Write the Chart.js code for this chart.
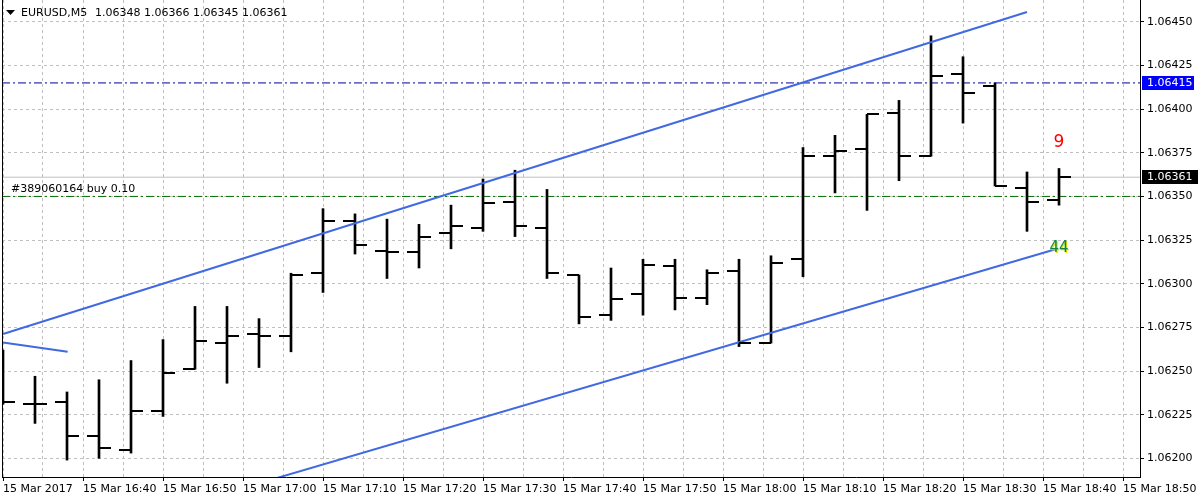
<!DOCTYPE html>
<html>
<head>
<meta charset="utf-8">
<title>EURUSD,M5</title>
<script src="https://cdn.jsdelivr.net/npm/chart.js@4"></script>
<style>
  html, body { margin: 0; padding: 0; background: #fff; }
  #wrap { width: 1200px; height: 500px; }
</style>
</head>
<body>
<div id="wrap"><canvas id="chart" width="1200" height="500"></canvas></div>
<script>
// EURUSD M5 bars (bar index 0 = leftmost bar)
const opens  = [1.06258, 1.06231, 1.06232, 1.06213, 1.06205, 1.06227, 1.06251, 1.06266, 1.06271, 1.06270,
                1.06306, 1.06336, 1.06319, 1.06318, 1.06329, 1.06332, 1.06347, 1.06332, 1.06305, 1.06282,
                1.06294, 1.06310, 1.06292, 1.06307, 1.06266, 1.06314, 1.06373, 1.06377, 1.06398, 1.06373,
                1.06420, 1.06413, 1.06355, 1.06348];
const highs  = [1.06262, 1.06247, 1.06238, 1.06245, 1.06256, 1.06268, 1.06287, 1.06287, 1.06280, 1.06306,
                1.06343, 1.06340, 1.06337, 1.06334, 1.06345, 1.06360, 1.06365, 1.06354, 1.06305, 1.06309,
                1.06314, 1.06314, 1.06308, 1.06314, 1.06316, 1.06378, 1.06385, 1.06397, 1.06405, 1.06442,
                1.06430, 1.06415, 1.06364, 1.06366];
const lows   = [1.06231, 1.06220, 1.06199, 1.06200, 1.06203, 1.06224, 1.06251, 1.06243, 1.06252, 1.06261,
                1.06295, 1.06317, 1.06303, 1.06309, 1.06320, 1.06330, 1.06327, 1.06303, 1.06277, 1.06279,
                1.06282, 1.06285, 1.06288, 1.06264, 1.06266, 1.06304, 1.06352, 1.06342, 1.06359, 1.06373,
                1.06392, 1.06356, 1.06330, 1.06345];
const closes = [1.06232, 1.06231, 1.06213, 1.06206, 1.06227, 1.06249, 1.06267, 1.06270, 1.06270, 1.06305,
                1.06336, 1.06322, 1.06318, 1.06327, 1.06333, 1.06346, 1.06333, 1.06306, 1.06281, 1.06291,
                1.06311, 1.06292, 1.06306, 1.06266, 1.06312, 1.06373, 1.06376, 1.06397, 1.06373, 1.06419,
                1.06409, 1.06356, 1.06347, 1.06361];

// time labels (one every 2.5 bars, as the terminal prints them)
const timeLabels = ['15 Mar 2017', '15 Mar 16:40', '15 Mar 16:50', '15 Mar 17:00', '15 Mar 17:10',
                    '15 Mar 17:20', '15 Mar 17:30', '15 Mar 17:40', '15 Mar 17:50', '15 Mar 18:00',
                    '15 Mar 18:10', '15 Mar 18:20', '15 Mar 18:30', '15 Mar 18:40', '15 Mar 18:50'];
const priceTicks = [1.06200, 1.06225, 1.06250, 1.06275, 1.06300, 1.06325, 1.06350, 1.06375, 1.06400, 1.06425, 1.06450];

// drawn objects: trend lines [barIndex, price]
const upperTrend = [[0, 1.062712], [32, 1.064556]];
const lowerTrend = [[8, 1.061857], [32.97, 1.063202]];
const shortTrend = [[0, 1.062664], [2.02, 1.062611]];

// horizontal levels
const bidPrice = 1.06361;
const alertLevel = 1.06415;
const orderLevel = 1.06350;
const orderText = '#389060164 buy 0.10';

const X_MIN = -0.03125, X_MAX = 35.53125;
const Y_MIN = 1.061893, Y_MAX = 1.064625;
const FONT = '"DejaVu Sans", sans-serif';

function toXY(pairs) {
  return pairs.map(p => ({ x: p[0], y: p[1] }));
}
function hLine(v) {
  return [{ x: X_MIN, y: v }, { x: X_MAX, y: v }];
}

// open / close ticks and the decorations of the terminal window
const ohlcTicks = {
  id: 'ohlcTicks',
  afterDatasetsDraw(chart) {
    const { ctx, chartArea, scales: { x, y } } = chart;
    ctx.save();
    ctx.beginPath();
    ctx.rect(chartArea.left, chartArea.top, chartArea.width, chartArea.height);
    ctx.clip();
    ctx.fillStyle = '#000';
    opens.forEach((o, i) => {
      const px = Math.round(x.getPixelForValue(i));
      ctx.fillRect(px - 12, Math.round(y.getPixelForValue(o)) - 1, 12, 2);
      ctx.fillRect(px, Math.round(y.getPixelForValue(closes[i])) - 1, 12, 2);
    });
    ctx.restore();
  },
  afterDraw(chart) {
    const { ctx, chartArea, scales: { x, y } } = chart;
    ctx.save();
    // left frame
    ctx.fillStyle = '#000';
    ctx.fillRect(chartArea.left, chartArea.top, 1, chartArea.height);

    // header
    ctx.beginPath();
    ctx.moveTo(6, 10); ctx.lineTo(15, 10); ctx.lineTo(10.5, 15); ctx.closePath();
    ctx.fill();
    ctx.font = '11px ' + FONT;
    ctx.textBaseline = 'middle';
    ctx.textAlign = 'left';
    ctx.fillText('EURUSD,M5', 21, 13);
    ctx.fillText(opens[opens.length - 1].toFixed(5) + ' ' + highs[highs.length - 1].toFixed(5) + ' ' +
                 lows[lows.length - 1].toFixed(5) + ' ' + closes[closes.length - 1].toFixed(5), 95, 13);

    // order label
    ctx.fillStyle = '#000';
    ctx.fillText(orderText, 11, Math.round(y.getPixelForValue(orderLevel)) - 7);

    // price tags on the axis
    const tag = (v, bg, w) => {
      const py = Math.round(y.getPixelForValue(v));
      ctx.fillStyle = bg;
      ctx.fillRect(chartArea.right + 2, py - 7, w, 14);
      ctx.fillStyle = '#fff';
      ctx.fillText(v.toFixed(5), chartArea.right + 7, py);
    };
    tag(alertLevel, '#0000ff', 52);
    tag(bidPrice, '#000000', 56);

    // chart object labels
    const lx = x.getPixelForValue(opens.length - 1);
    ctx.textAlign = 'center';
    ctx.font = '17px ' + FONT;
    ctx.fillStyle = '#ff0000';
    ctx.fillText('9', lx, 143);
    ctx.font = '15px ' + FONT;
    ctx.fillStyle = '#e0e000';
    ctx.fillText('44', lx + 1, 249);
    ctx.fillStyle = '#0a8a3a';
    ctx.fillText('44', lx, 248);
    ctx.restore();
  }
};

new Chart(document.getElementById('chart'), {
  type: 'bar',
  data: {
    datasets: [
      {
        type: 'line', data: toXY(upperTrend), borderColor: '#4169e1', borderWidth: 2,
        pointRadius: 0, order: 1
      },
      {
        type: 'line', data: toXY(lowerTrend), borderColor: '#4169e1', borderWidth: 2,
        pointRadius: 0, order: 1
      },
      {
        type: 'line', data: toXY(shortTrend), borderColor: '#4169e1', borderWidth: 2,
        pointRadius: 0, order: 1
      },
      {
        type: 'bar', data: highs.map((h, i) => ({ x: i, y: [lows[i], h] })),
        backgroundColor: '#000', barThickness: 2, borderWidth: 0, grouped: false, order: 2
      },
      {
        type: 'line', data: hLine(alertLevel), borderColor: '#00009a', borderWidth: 1,
        borderDash: [8, 3, 2, 3], pointRadius: 0, order: 3
      },
      {
        type: 'line', data: hLine(orderLevel), borderColor: '#007000', borderWidth: 1,
        borderDash: [8, 3, 2, 3], pointRadius: 0, order: 3
      },
      {
        type: 'line', data: hLine(bidPrice), borderColor: '#c0c0c0', borderWidth: 1,
        pointRadius: 0, order: 4
      }
    ]
  },
  options: {
    responsive: false,
    animation: false,
    devicePixelRatio: 1,
    layout: { padding: { left: 2, top: 0, right: 0, bottom: 0 } },
    plugins: { legend: { display: false }, tooltip: { enabled: false } },
    scales: {
      x: {
        type: 'linear',
        min: X_MIN,
        max: X_MAX,
        offset: false,
        afterBuildTicks: axis => {
          const t = [];
          for (let k = 0; k <= 28; k++) t.push({ value: k * 1.25 });
          axis.ticks = t;
        },
        afterFit: axis => { axis.height = 23; axis.paddingLeft = 0; axis.paddingRight = 0; },
        grid: {
          offset: false,
          color: '#c0c0c0',
          tickLength: 4,
          tickColor: c => (c.index % 2 === 0 ? '#000' : 'rgba(0,0,0,0)')
        },
        border: { color: '#000', width: 1, dash: [3, 3] },
        ticks: {
          autoSkip: false,
          maxRotation: 0,
          align: 'start',
          padding: 2,
          color: '#000',
          font: { family: FONT, size: 11 },
          callback: (v, i) => (i % 2 === 0 ? timeLabels[i / 2] : '')
        }
      },
      y: {
        type: 'linear',
        position: 'right',
        min: Y_MIN,
        max: Y_MAX,
        afterBuildTicks: axis => { axis.ticks = priceTicks.map(v => ({ value: v })); },
        afterFit: axis => { axis.width = 60; axis.paddingTop = 0; axis.paddingBottom = 0; },
        grid: { color: '#c0c0c0', tickLength: 4, tickColor: '#000' },
        border: { color: '#000', width: 1, dash: [3, 3] },
        ticks: {
          padding: 3,
          color: '#000',
          font: { family: FONT, size: 11 },
          callback: v => v.toFixed(5)
        }
      }
    }
  },
  plugins: [ohlcTicks]
});
</script>
</body>
</html>
